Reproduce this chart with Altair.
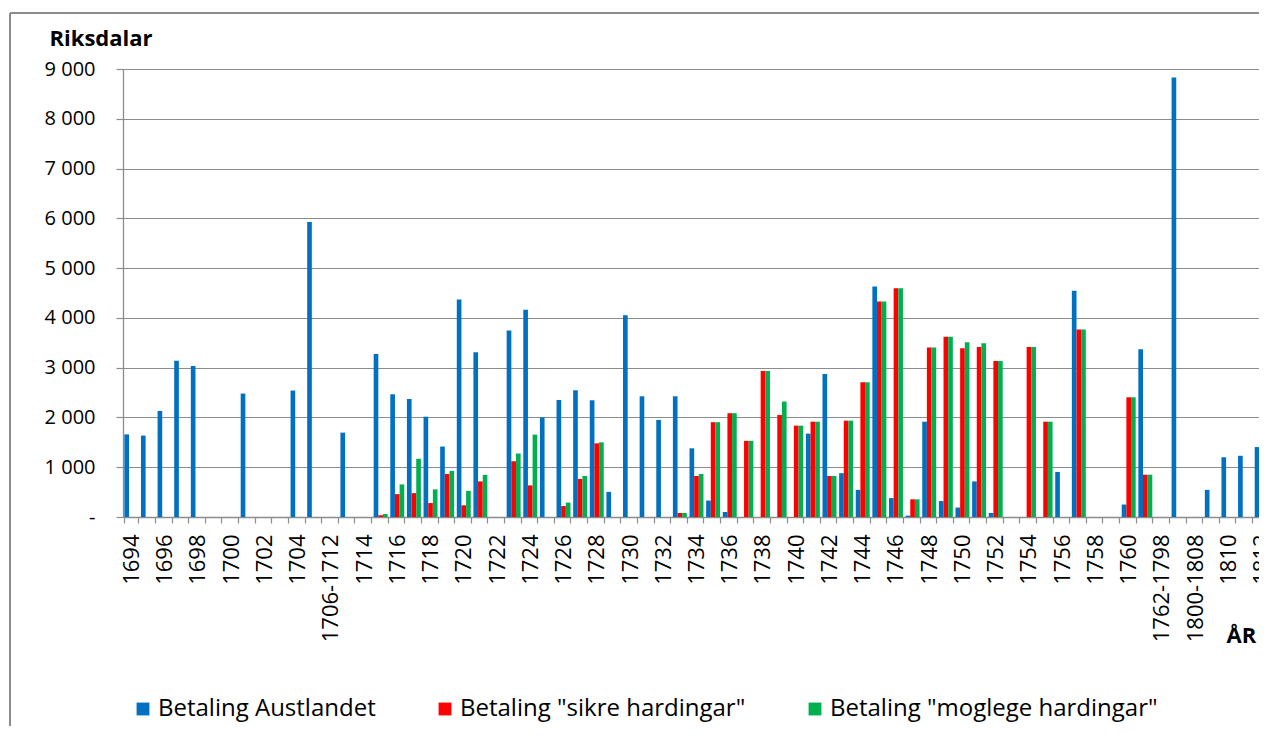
import altair as alt
import pandas as pd

categories = [
    "1694", "1695", "1696", "1697", "1698", "1699", "1700", "1701", "1702", "1703",
    "1704", "1705", "1706-1712",
    "1713", "1714", "1715", "1716", "1717", "1718", "1719", "1720", "1721", "1722",
    "1723", "1724", "1725", "1726", "1727", "1728", "1729", "1730", "1731", "1732",
    "1733", "1734", "1735", "1736", "1737", "1738", "1739", "1740", "1741", "1742",
    "1743", "1744", "1745", "1746", "1747", "1748", "1749", "1750", "1751", "1752",
    "1753", "1754", "1755", "1756", "1757", "1758", "1759", "1760", "1761",
    "1762-1798", "1799", "1800-1808", "1809", "1810", "1811", "1812",
]

series_names = ["Betaling Austlandet", 'Betaling "sikre hardingar"', 'Betaling "moglege hardingar"']
series_colors = ["#0070C0", "#FF0000", "#00B050"]

austlandet = [
    1660, 1635, 2130, 3140, 3035, None, None, 2480, None, None, 2540, 5925, None,
    1695, None, 3275, 2465, 2370, 2015, 1415, 4370, 3310, None, 3745, 4165, 2000,
    2350, 2545, 2345, 505, 4055, 2425, 1950, 2425, 1380, 330, 100, None, None, None,
    None, 1675, 2875, 880, 545, 4630, 380, 27, 1915, 320, 190, 715, 80, None, None,
    None, 905, 4545, None, None, 250, 3370,
    None, 8830, None, 545, 1200, 1230, 1405,
]

sikre = [
    None, None, None, None, None, None, None, None, None, None, None, None, None, None, None,
    35, 460, 480, 280, 865, 235, 715, None, 1120, 635, None, 220, 765, 1480,
    None, None, None, None, 80, 825, 1905, 2085, 1530, 2935, 2050, 1835, 1915, 825,
    1935, 2705, 4330, 4595, 355, 3405, 3620, 3390, 3415, 3135, None, 3415, 1915, None,
    3765, None, None, 2405, 850,
    None, None, None, None, None, None, None,
]

moglege = [
    None, None, None, None, None, None, None, None, None, None, None, None, None, None, None,
    60, 655, 1170, 555, 925, 525, 845, None, 1275, 1655, None, 290, 825, 1500,
    None, None, None, None, 80, 865, 1905, 2085, 1530, 2935, 2320, 1835, 1915, 825,
    1935, 2705, 4330, 4595, 355, 3405, 3620, 3510, 3490, 3135, None, 3415, 1915, None,
    3765, None, None, 2405, 850,
    None, None, None, None, None, None, None,
]

y_ticks = [0, 1000, 2000, 3000, 4000, 5000, 6000, 7000, 8000, 9000]

assert len(categories) == len(austlandet) == len(sikre) == len(moglege) == 69

rows = []
for name, vals in zip(series_names, [austlandet, sikre, moglege]):
    for c, v in zip(categories, vals):
        if v is not None:
            rows.append({"cat": c, "series": name, "value": v})
df = pd.DataFrame(rows)

GRAY = "#8c8c8c"
FONT = "Open Sans"

cat_list_expr = "[" + ",".join('"%s"' % c for c in categories) + "]"
x_label_expr = "indexof(%s, datum.value) %% 2 == 0 ? datum.label : ''" % cat_list_expr

bars = alt.Chart(df).mark_bar().encode(
    x=alt.X(
        "cat:N",
        sort=categories,
        scale=alt.Scale(domain=categories, range=[0, 1147], paddingInner=0.16, paddingOuter=0.08),
        axis=alt.Axis(
            title="ÅR",
            titleX=1103,
            titleY=125,
            titleAlign="left",
            titleBaseline="alphabetic",
            titleFont=FONT,
            titleFontSize=22,
            titleFontWeight="bold",
            titleColor="black",
            labelAngle=-90,
            labelFont=FONT,
            labelFontSize=22,
            labelColor="black",
            labelPadding=11,
            labelExpr=x_label_expr,
            labelOverlap=False,
            labelBound=False,
            labelFlush=False,
            labelLimit=0,
            tickBand="extent",
            tickSize=6,
            tickColor=GRAY,
            tickWidth=1.2,
            domainColor=GRAY,
            domainWidth=1.3,
            grid=False,
        ),
    ),
    xOffset=alt.XOffset(
        "series:N",
        sort=series_names,
        scale=alt.Scale(domain=series_names, paddingInner=0, paddingOuter=0),
    ),
    y=alt.Y(
        "value:Q",
        scale=alt.Scale(domain=[0, 9000], nice=False),
        axis=alt.Axis(
            values=y_ticks,
            labelExpr="datum.value == 0 ? '-' : replace(format(datum.value, ',d'), ',', ' ')",
            title="Riksdalar",
            titleAngle=0,
            titleX=-74,
            titleY=-24,
            titleAlign="left",
            titleBaseline="alphabetic",
            titleFont=FONT,
            titleFontSize=22,
            titleFontWeight="bold",
            titleColor="black",
            labelFont=FONT,
            labelFontSize=20,
            labelColor="black",
            labelPadding=21,
            tickSize=7,
            tickColor=GRAY,
            tickWidth=1.2,
            domainColor=GRAY,
            domainWidth=1.3,
            grid=True,
            gridColor=GRAY,
            gridWidth=1.2,
        ),
    ),
    color=alt.Color(
        "series:N",
        sort=series_names,
        scale=alt.Scale(domain=series_names, range=series_colors),
        legend=alt.Legend(
            title=None,
            orient="none",
            legendX=8,
            legendY=628,
            direction="horizontal",
            symbolType="square",
            symbolSize=165,
            symbolStrokeWidth=0,
            labelFont=FONT,
            labelFontSize=24,
            labelColor="black",
            labelOffset=3,
            labelLimit=0,
            columnPadding=57,
            padding=0,
        ),
    ),
)

frame_df = pd.DataFrame({"k": [0]})
frame_left = alt.Chart(frame_df).mark_rule(color=GRAY, strokeWidth=2).encode(
    x=alt.value(-113), y=alt.value(-56), y2=alt.value(660)
)
frame_top = alt.Chart(frame_df).mark_rule(color=GRAY, strokeWidth=2).encode(
    x=alt.value(-113), x2=alt.value(1150), y=alt.value(-56)
)

chart = alt.layer(bars, frame_left, frame_top).properties(
    width=1136,
    height=448,
    padding={"left": 115, "top": 61, "right": 0, "bottom": 209},
    autosize=alt.AutoSizeParams(type="none"),
    background="white",
).configure_view(strokeWidth=0)

chart.save("out.html", embed_options={"renderer": "svg", "actions": False})
